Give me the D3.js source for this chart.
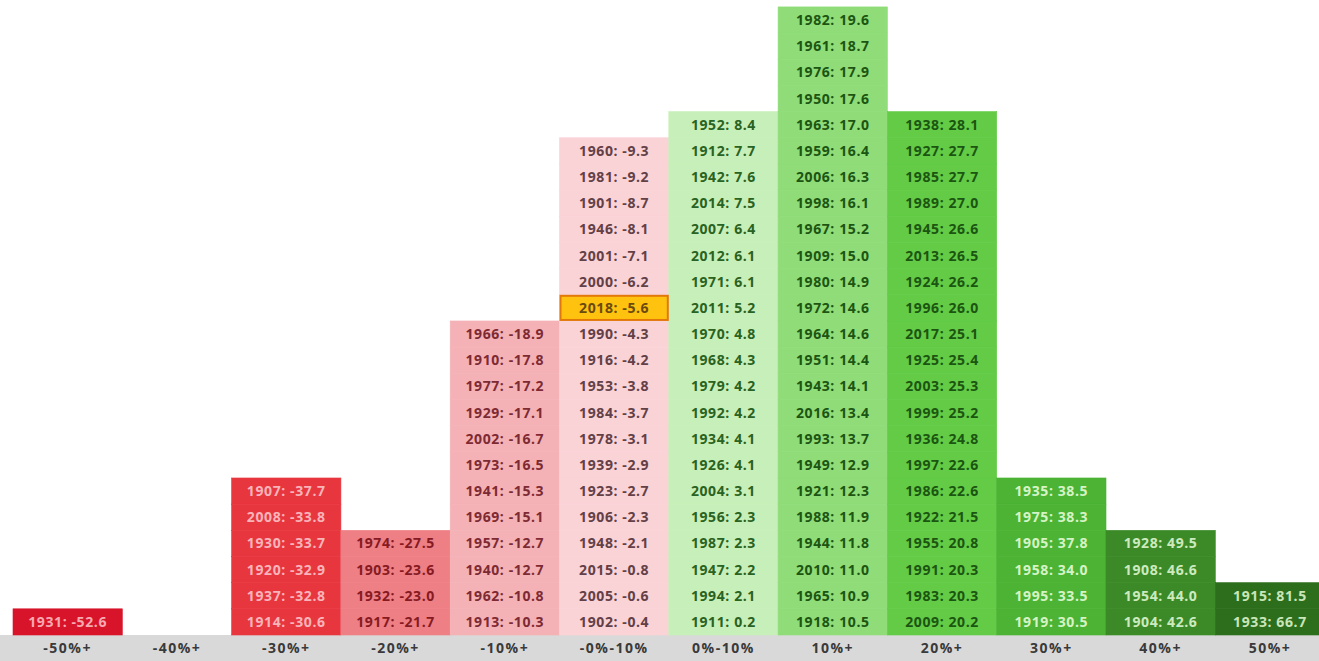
<!DOCTYPE html>
<html>
<head>
<meta charset="utf-8">
<script src="https://cdn.jsdelivr.net/npm/d3@7/dist/d3.min.js"></script>
<style>
  html, body { margin: 0; padding: 0; background: #ffffff; }
  svg { display: block; }
</style>
</head>
<body>
<svg id="chart" width="1319" height="661"></svg>
<script>
// ---- Data ----
const bins = ["-50%+", "-40%+", "-30%+", "-20%+", "-10%+", "-0%-10%", "0%-10%", "10%+", "20%+", "30%+", "40%+", "50%+"];

// years and returns listed top-to-bottom within each bin
const years = [
  [1931],
  [],
  [1907, 2008, 1930, 1920, 1937, 1914],
  [1974, 1903, 1932, 1917],
  [1966, 1910, 1977, 1929, 2002, 1973, 1941, 1969, 1957, 1940, 1962, 1913],
  [1960, 1981, 1901, 1946, 2001, 2000, 2018, 1990, 1916, 1953, 1984, 1978, 1939, 1923, 1906, 1948, 2015, 2005, 1902],
  [1952, 1912, 1942, 2014, 2007, 2012, 1971, 2011, 1970, 1968, 1979, 1992, 1934, 1926, 2004, 1956, 1987, 1947, 1994, 1911],
  [1982, 1961, 1976, 1950, 1963, 1959, 2006, 1998, 1967, 1909, 1980, 1972, 1964, 1951, 1943, 2016, 1993, 1949, 1921, 1988, 1944, 2010, 1965, 1918],
  [1938, 1927, 1985, 1989, 1945, 2013, 1924, 1996, 2017, 1925, 2003, 1999, 1936, 1997, 1986, 1922, 1955, 1991, 1983, 2009],
  [1935, 1975, 1905, 1958, 1995, 1919],
  [1928, 1908, 1954, 1904],
  [1915, 1933]
];

const returns = [
  [-52.6],
  [],
  [-37.7, -33.8, -33.7, -32.9, -32.8, -30.6],
  [-27.5, -23.6, -23.0, -21.7],
  [-18.9, -17.8, -17.2, -17.1, -16.7, -16.5, -15.3, -15.1, -12.7, -12.7, -10.8, -10.3],
  [-9.3, -9.2, -8.7, -8.1, -7.1, -6.2, -5.6, -4.3, -4.2, -3.8, -3.7, -3.1, -2.9, -2.7, -2.3, -2.1, -0.8, -0.6, -0.4],
  [8.4, 7.7, 7.6, 7.5, 6.4, 6.1, 6.1, 5.2, 4.8, 4.3, 4.2, 4.2, 4.1, 4.1, 3.1, 2.3, 2.3, 2.2, 2.1, 0.2],
  [19.6, 18.7, 17.9, 17.6, 17.0, 16.4, 16.3, 16.1, 15.2, 15.0, 14.9, 14.6, 14.6, 14.4, 14.1, 13.4, 13.7, 12.9, 12.3, 11.9, 11.8, 11.0, 10.9, 10.5],
  [28.1, 27.7, 27.7, 27.0, 26.6, 26.5, 26.2, 26.0, 25.1, 25.4, 25.3, 25.2, 24.8, 22.6, 22.6, 21.5, 20.8, 20.3, 20.3, 20.2],
  [38.5, 38.3, 37.8, 34.0, 33.5, 30.5],
  [49.5, 46.6, 44.0, 42.6],
  [81.5, 66.7]
];

const highlightYear = 2018;

// ---- Styles ----
const fillColors = {
  "-50%+": "#d8142a", "-40%+": "#e02a36", "-30%+": "#e8363f", "-20%+": "#ee7f85",
  "-10%+": "#f4b2b6", "-0%-10%": "#fad3d7", "0%-10%": "#c7efb9", "10%+": "#8fdc78",
  "20%+": "#63cb46", "30%+": "#4cb334", "40%+": "#3b8a27", "50%+": "#2d6e1d"
};
const textColors = {
  "-50%+": "#f8a9b0", "-40%+": "#f8b0b6", "-30%+": "#f9b4ba", "-20%+": "#861a22",
  "-10%+": "#7e2a33", "-0%-10%": "#634046", "0%-10%": "#2a6221", "10%+": "#1c5512",
  "20%+": "#1b5511", "30%+": "#d6f3c6", "40%+": "#cdeabf", "50%+": "#c9e6b9"
};

// ---- Layout ----
const W = 1319, H = 661;
const x0 = 13, colW = 109.3;
const baseY = 635, rowH = 26.17;
const maxRows = 24;

const svg = d3.select("#chart");

const x = d3.scaleBand()
  .domain(bins)
  .range([x0, x0 + colW * bins.length])
  .padding(0);

const y = d3.scaleLinear()
  .domain([0, maxRows])
  .range([baseY, baseY - rowH * maxRows]);

// flatten cells
const cells = [];
bins.forEach((b, bi) => {
  const n = years[bi].length;
  years[bi].forEach((yr, i) => {
    cells.push({ bin: b, year: yr, value: returns[bi][i], row: n - 1 - i });
  });
});

// Gray axis band
svg.append("rect")
  .attr("x", 0)
  .attr("y", baseY)
  .attr("width", W)
  .attr("height", H - baseY)
  .attr("fill", "#d9d9d9");

const g = svg.append("g");

g.selectAll("rect.cell")
  .data(cells)
  .join("rect")
  .attr("class", "cell")
  .attr("x", d => x(d.bin))
  .attr("y", d => y(d.row + 1))
  .attr("width", x.bandwidth())
  .attr("height", d => y(d.row) - y(d.row + 1))
  .attr("fill", d => fillColors[d.bin])
  .attr("stroke", d => fillColors[d.bin])
  .attr("stroke-width", 0.6);

// highlighted cell
const hl = cells.filter(d => d.year === highlightYear);
g.selectAll("rect.hl")
  .data(hl)
  .join("rect")
  .attr("class", "hl")
  .attr("x", d => x(d.bin) + 1)
  .attr("y", d => y(d.row + 1) + 1)
  .attr("width", x.bandwidth() - 2)
  .attr("height", d => y(d.row) - y(d.row + 1) - 2)
  .attr("fill", "#ffc20e")
  .attr("stroke", "#e2780a")
  .attr("stroke-width", 2);

g.selectAll("text.lbl")
  .data(cells)
  .join("text")
  .attr("class", "lbl")
  .attr("x", d => x(d.bin) + x.bandwidth() / 2)
  .attr("y", d => (y(d.row) + y(d.row + 1)) / 2)
  .attr("dy", "0.36em")
  .attr("text-anchor", "middle")
  .attr("font-family", "'Open Sans', sans-serif")
  .attr("font-weight", 700)
  .attr("font-size", 14)
  .attr("letter-spacing", "0.6px")
  .attr("fill", d => d.year === highlightYear ? "#6b4a10" : textColors[d.bin])
  .text(d => `${d.year}: ${d.value.toFixed(1)}`);

// x axis
const axis = d3.axisBottom(x).tickSize(0).tickPadding(0);
const ax = svg.append("g")
  .attr("transform", `translate(0,${baseY + (H - baseY) / 2})`)
  .call(axis);
ax.select(".domain").remove();
ax.selectAll("text")
  .attr("dy", "0.36em")
  .attr("y", 0)
  .attr("font-family", "'Open Sans', sans-serif")
  .attr("font-weight", 700)
  .attr("font-size", 14)
  .attr("letter-spacing", "1.5px")
  .attr("fill", "#3a3a3a");
</script>
</body>
</html>
